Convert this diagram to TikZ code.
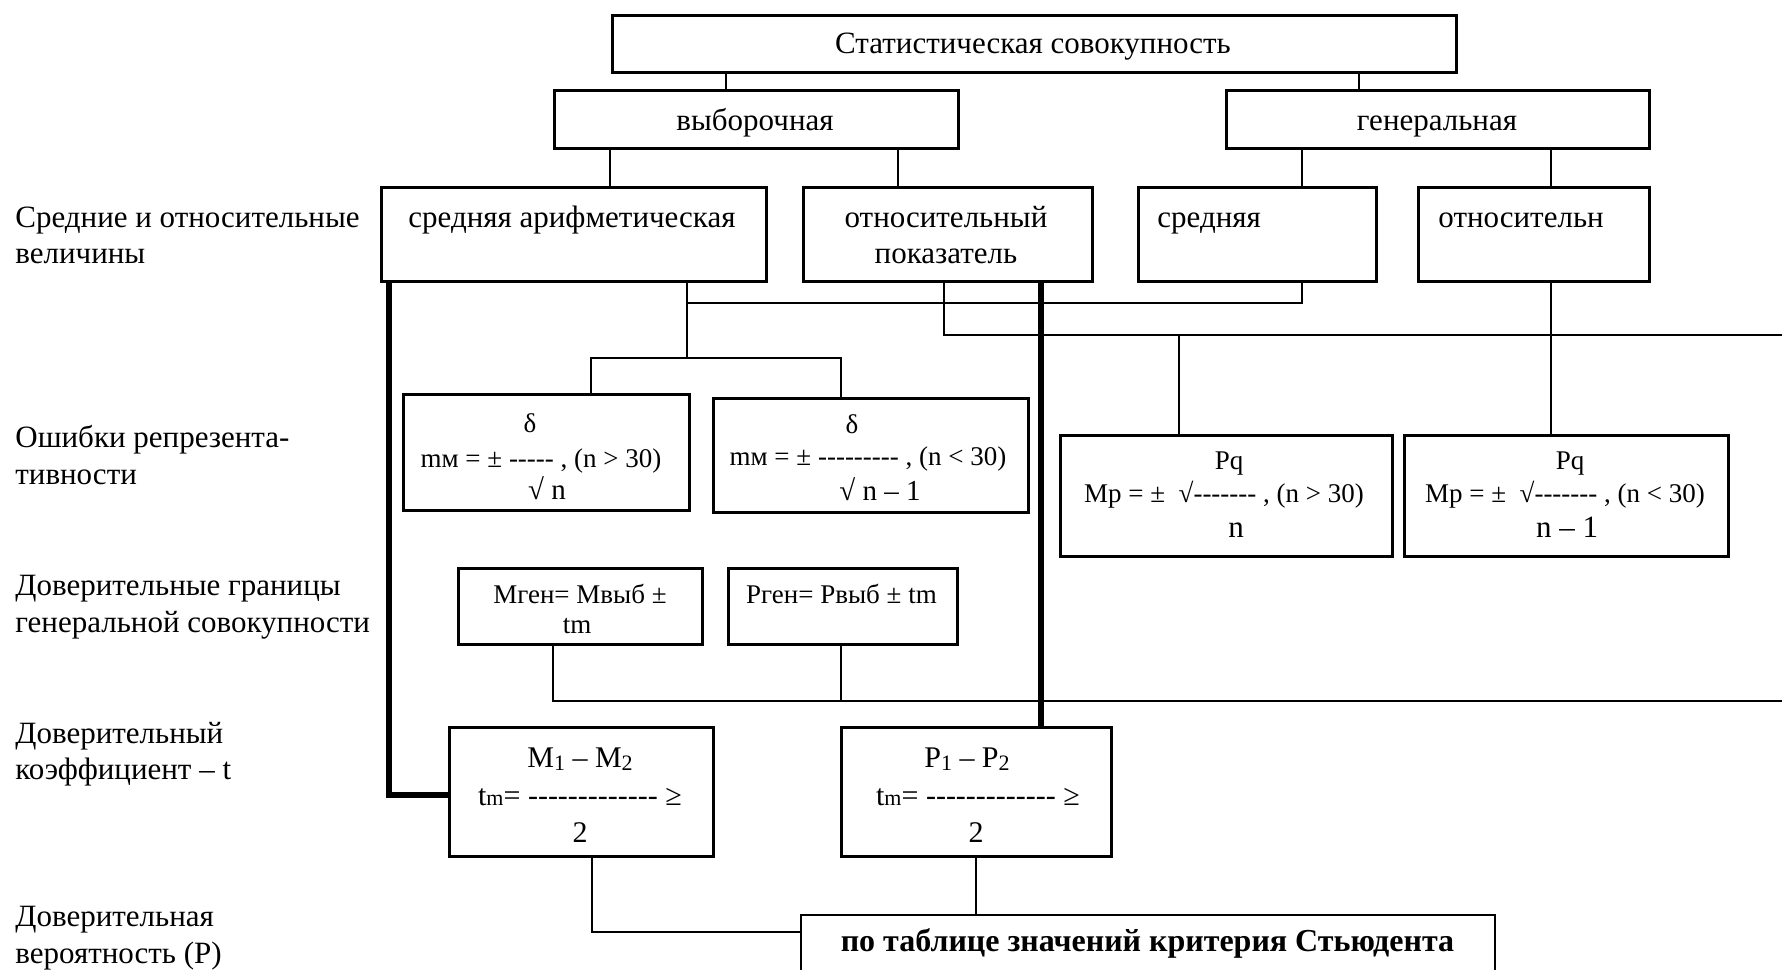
\documentclass[tikz,border=0pt]{standalone}
\usepackage{fontspec}
\setmainfont{Liberation Serif}[Ligatures=TeXOff]
\begin{document}
\tikzset{
 bx/.style={draw, line width=1.3pt, inner sep=0pt, anchor=north west},
 ln/.style={line width=1pt},
 thk/.style={line width=2.8pt},
 tx/.style={inner sep=0pt, anchor=base, font=\fontsize{15.5}{18}\selectfont},
 lb/.style={tx, anchor=base west},
 fm/.style={inner sep=0pt, anchor=base, font=\fontsize{13.5}{16}\selectfont},
 fb/.style={inner sep=0pt, anchor=base, font=\fontsize{14.5}{17}\selectfont},
 fc/.style={inner sep=0pt, anchor=base, font=\fontsize{15}{17}\selectfont},
}
\begin{tikzpicture}[x=0.5pt,y=-0.5pt]
\useasboundingbox (0,0) rectangle (1782,969);
% boxes
\node[bx, minimum width=422pt, minimum height=28.5pt] (top) at (611,14) {};
\node[bx, minimum width=202pt, minimum height=29pt] (vyb) at (553,89) {};
\node[bx, minimum width=211.5pt, minimum height=29pt] (gen) at (1225,89) {};
\node[bx, minimum width=192.5pt, minimum height=47pt] (sredAr) at (380,186) {};
\node[bx, minimum width=144.5pt, minimum height=47pt] (otnPok) at (802,186) {};
\node[bx, minimum width=119pt, minimum height=47pt] (sred) at (1137,186) {};
\node[bx, minimum width=115.5pt, minimum height=47pt] (otnos) at (1417,186) {};
\node[bx, minimum width=143pt, minimum height=58pt] (d1) at (402,393) {};
\node[bx, minimum width=157.5pt, minimum height=57pt] (d2) at (712,397) {};
\node[bx, minimum width=166pt, minimum height=60.5pt] (mp1) at (1059,434) {};
\node[bx, minimum width=162pt, minimum height=60.5pt] (mp2) at (1403,434) {};
\node[bx, minimum width=122pt, minimum height=38pt] (mgen) at (457,567) {};
\node[bx, minimum width=114.5pt, minimum height=38pt] (pgen) at (727,567) {};
\node[bx, minimum width=132pt, minimum height=64.5pt] (m12) at (448,726) {};
\node[bx, minimum width=135pt, minimum height=64.5pt] (p12) at (840,726) {};
\node[inner sep=0pt, anchor=north west, minimum width=346.5pt, minimum height=30pt] (stud) at (801,915) {};
\draw[line width=1.3pt] (stud.south west) -- (stud.north west) -- (stud.north east) -- (stud.south east);

% texts in boxes
\node[tx] (topT) at (1033,53) {Статистическая совокупность};
\node[tx] (vybT) at (755,130) {выборочная};
\node[tx] (genT) at (1437,130) {генеральная};
\node[tx] (sredArT) at (572,227) {средняя арифметическая};
\node[tx] (otnPokT1) at (946,227) {относительный};
\node[tx] (otnPokT2) at (946,263) {показатель};
\node[tx, anchor=base west] (sredT) at (1157,227) {средняя};
\node[tx, anchor=base west] (otnosT) at (1438,227) {относительн};

\node[fm] (d1a) at (530,432) {δ};
\node[fm] (d1b) at (541,467) {mм = ± ----- , (n > 30)};
\node[fb] (d1c) at (547,499) {√ n};
\node[fm] (d2a) at (852,433) {δ};
\node[fm] (d2b) at (868,465) {mм = ± --------- , (n < 30)};
\node[fb] (d2c) at (880,500) {√ n – 1};

\node[fm] (mp1a) at (1229,469) {Pq};
\node[fm] (mp1b) at (1224,502) {Mp = ± \ √------- , (n > 30)};
\node[tx] (mp1c) at (1236,537) {n};
\node[fm] (mp2a) at (1570,469) {Pq};
\node[fm] (mp2b) at (1565,502) {Mp = ± \ √------- , (n < 30)};
\node[tx] (mp2c) at (1567,537) {n – 1};

\node[fm] (mgenA) at (580,603) {Мген= Мвыб ±};
\node[fm] (mgenB) at (577,633) {tm};
\node[fm] (pgenA) at (841.5,603) {Рген= Рвыб ± tm};

\node[fc] (m12a) at (580,767) {M\raisebox{-1.5pt}{\fontsize{11}{11}\selectfont 1} – M\raisebox{-1.5pt}{\fontsize{11}{11}\selectfont 2}};
\node[fc] (m12b) at (580,805) {t{\fontsize{11}{11}\selectfont m}= ------------- ≥};
\node[fc] (m12c) at (580,842) {2};
\node[fc] (p12a) at (967,767) {P\raisebox{-1.5pt}{\fontsize{11}{11}\selectfont 1} – P\raisebox{-1.5pt}{\fontsize{11}{11}\selectfont 2}};
\node[fc] (p12b) at (978,805) {t{\fontsize{11}{11}\selectfont m}= ------------- ≥};
\node[fc] (p12c) at (976,842) {2};

\node[tx, font=\fontsize{16}{18}\selectfont\bfseries] (studT) at (1147.5,951) {по таблице значений критерия Стьюдента};

% left labels
\node[lb] (l1a) at (15,227) {Средние и относительные};
\node[lb] (l1b) at (15,263) {величины};
\node[lb] (l2a) at (15,447) {Ошибки репрезента-};
\node[lb] (l2b) at (15,484) {тивности};
\node[lb] (l3a) at (15,595) {Доверительные границы};
\node[lb] (l3b) at (15,632) {генеральной совокупности};
\node[lb] (l4a) at (15,743) {Доверительный};
\node[lb] (l4b) at (15,779) {коэффициент – t};
\node[lb] (l5a) at (15,926) {Доверительная};
\node[lb] (l5b) at (15,963) {вероятность (P)};

% guide coordinates
\coordinate (v389) at (389,0);
\coordinate (v553) at (553,0);
\coordinate (v591) at (591,0);
\coordinate (v592) at (592,0);
\coordinate (v610) at (610,0);
\coordinate (v687) at (687,0);
\coordinate (v726) at (726,0);
\coordinate (v841) at (841,0);
\coordinate (v898) at (898,0);
\coordinate (v944) at (944,0);
\coordinate (v976) at (976,0);
\coordinate (v1041) at (1041,0);
\coordinate (v1179) at (1179,0);
\coordinate (v1302) at (1302,0);
\coordinate (v1359) at (1359,0);
\coordinate (v1551) at (1551,0);
\coordinate (R) at (1782,0);
\coordinate (h303) at (0,303);
\coordinate (h335) at (0,335);
\coordinate (h358) at (0,358);
\coordinate (h701) at (0,701);
\coordinate (h795) at (0,795);
\coordinate (h932) at (0,932);

% connectors
\draw[ln] (top.south -| v726) -- (vyb.north -| v726);
\draw[ln] (top.south -| v1359) -- (gen.north -| v1359);
\draw[ln] (vyb.south -| v610) -- (sredAr.north -| v610);
\draw[ln] (vyb.south -| v898) -- (otnPok.north -| v898);
\draw[ln] (gen.south -| v1302) -- (sred.north -| v1302);
\draw[ln] (gen.south -| v1551) -- (otnos.north -| v1551);
\draw[ln] (sredAr.south -| v687) -- (v687 |- h358);
\draw[ln] (v687 |- h303) -- (v1302 |- h303) -- (sred.south -| v1302);
\draw[ln] (d1.north -| v591) -- (v591 |- h358) -- (v841 |- h358) -- (d2.north -| v841);
\draw[ln] (otnPok.south -| v944) -- (v944 |- h335) -- (R |- h335);
\draw[ln] (v1179 |- h335) -- (mp1.north -| v1179);
\draw[ln] (otnos.south -| v1551) -- (mp2.north -| v1551);
\draw[ln] (mgen.south -| v553) -- (v553 |- h701) -- (R |- h701);
\draw[ln] (pgen.south -| v841) -- (v841 |- h701);
\draw[ln] (m12.south -| v592) -- (v592 |- h932) -- (stud.north west |- h932);
\draw[ln] (p12.south -| v976) -- (stud.north -| v976);
\draw[thk] (sredAr.south -| v389) -- (v389 |- h795) -- (m12.west |- h795);
\draw[thk] (otnPok.south -| v1041) -- (p12.north -| v1041);
\end{tikzpicture}
\end{document}
